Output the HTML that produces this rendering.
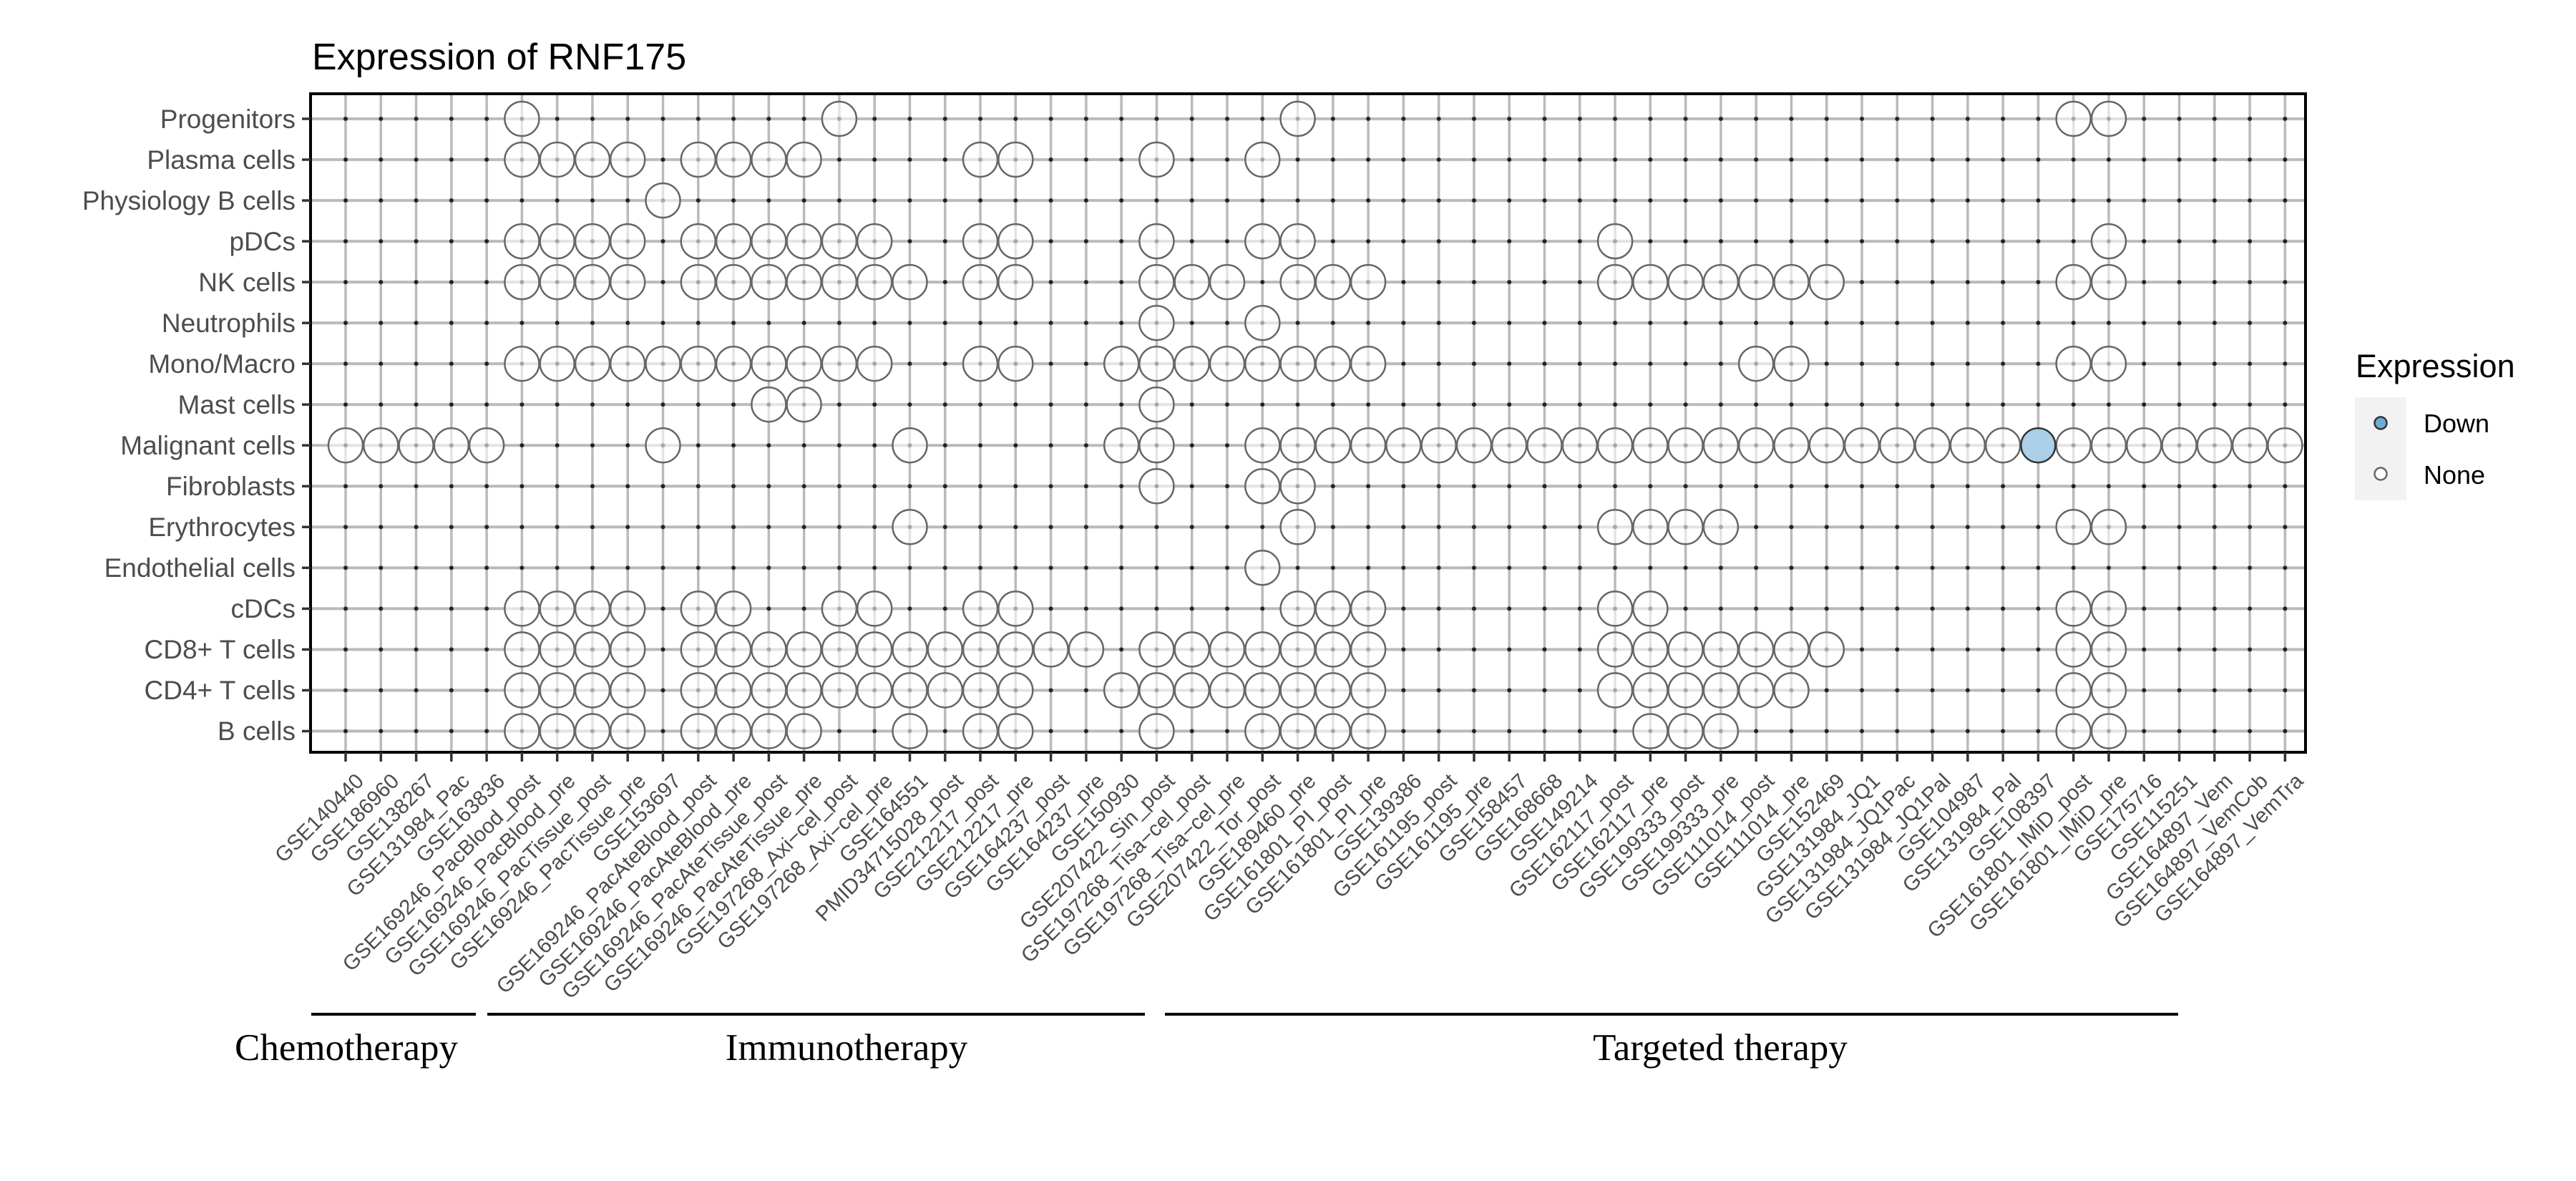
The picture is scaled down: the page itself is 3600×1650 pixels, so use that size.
<!DOCTYPE html>
<html><head><meta charset="utf-8"><style>
html,body{margin:0;padding:0;background:#fff;}
svg{display:block;}
.yl{font-family:"Liberation Sans",sans-serif;font-size:37px;fill:#4d4d4d;text-anchor:end;}
.xl{font-family:"Liberation Sans",sans-serif;font-size:29.5px;fill:#4d4d4d;text-anchor:end;}
.c{fill:#fff;fill-opacity:.6;stroke:#666;stroke-width:2.5;}
.g{font-family:"Liberation Serif",serif;font-size:53px;fill:#000;text-anchor:middle;}
</style></head><body>
<svg width="3600" height="1650" viewBox="0 0 3600 1650" xmlns="http://www.w3.org/2000/svg">
<defs>
<pattern id="pv" patternUnits="userSpaceOnUse" x="458.36" y="0" width="49.28" height="10"><rect x="22.89" y="0" width="3.5" height="10" fill="#bababa"/></pattern>
<pattern id="ph" patternUnits="userSpaceOnUse" x="0" y="137.485" width="10" height="57.03"><rect x="0" y="26.515" width="10" height="4" fill="#bababa"/></pattern>
<pattern id="pd" patternUnits="userSpaceOnUse" x="458.36" y="137.485" width="49.28" height="57.03"><circle cx="24.64" cy="28.515" r="3" fill="#222"/></pattern>
</defs>
<text x="436" y="97" style="font-family:'Liberation Sans',sans-serif;font-size:52px;fill:#000">Expression of RNF175</text>
<rect x="434" y="131" width="2788" height="920" fill="#fff"/>
<rect x="434" y="131" width="2788" height="920" fill="url(#pv)"/>
<rect x="434" y="131" width="2788" height="920" fill="url(#ph)"/>
<rect x="458.36" y="137.485" width="2759.68" height="912.48" fill="url(#pd)"/>

<g class="c">
<g transform="translate(0,166)"><circle cx="729.4" r="24"/><circle cx="1172.9" r="24"/><circle cx="1813.6" r="24"/><circle cx="2897.7" r="24"/><circle cx="2947" r="24"/></g>
<g transform="translate(0,223)"><circle cx="729.4" r="24"/><circle cx="778.7" r="24"/><circle cx="828" r="24"/><circle cx="877.2" r="24"/><circle cx="975.8" r="24"/><circle cx="1025.1" r="24"/><circle cx="1074.4" r="24"/><circle cx="1123.6" r="24"/><circle cx="1370" r="24"/><circle cx="1419.3" r="24"/><circle cx="1616.4" r="24"/><circle cx="1764.3" r="24"/></g>
<g transform="translate(0,280.1)"><circle cx="926.5" r="24"/></g>
<g transform="translate(0,337.1)"><circle cx="729.4" r="24"/><circle cx="778.7" r="24"/><circle cx="828" r="24"/><circle cx="877.2" r="24"/><circle cx="975.8" r="24"/><circle cx="1025.1" r="24"/><circle cx="1074.4" r="24"/><circle cx="1123.6" r="24"/><circle cx="1172.9" r="24"/><circle cx="1222.2" r="24"/><circle cx="1370" r="24"/><circle cx="1419.3" r="24"/><circle cx="1616.4" r="24"/><circle cx="1764.3" r="24"/><circle cx="1813.6" r="24"/><circle cx="2257.1" r="24"/><circle cx="2947" r="24"/></g>
<g transform="translate(0,394.1)"><circle cx="729.4" r="24"/><circle cx="778.7" r="24"/><circle cx="828" r="24"/><circle cx="877.2" r="24"/><circle cx="975.8" r="24"/><circle cx="1025.1" r="24"/><circle cx="1074.4" r="24"/><circle cx="1123.6" r="24"/><circle cx="1172.9" r="24"/><circle cx="1222.2" r="24"/><circle cx="1271.5" r="24"/><circle cx="1370" r="24"/><circle cx="1419.3" r="24"/><circle cx="1616.4" r="24"/><circle cx="1665.7" r="24"/><circle cx="1715" r="24"/><circle cx="1813.6" r="24"/><circle cx="1862.8" r="24"/><circle cx="1912.1" r="24"/><circle cx="2257.1" r="24"/><circle cx="2306.4" r="24"/><circle cx="2355.6" r="24"/><circle cx="2404.9" r="24"/><circle cx="2454.2" r="24"/><circle cx="2503.5" r="24"/><circle cx="2552.8" r="24"/><circle cx="2897.7" r="24"/><circle cx="2947" r="24"/></g>
<g transform="translate(0,451.2)"><circle cx="1616.4" r="24"/><circle cx="1764.3" r="24"/></g>
<g transform="translate(0,508.2)"><circle cx="729.4" r="24"/><circle cx="778.7" r="24"/><circle cx="828" r="24"/><circle cx="877.2" r="24"/><circle cx="926.5" r="24"/><circle cx="975.8" r="24"/><circle cx="1025.1" r="24"/><circle cx="1074.4" r="24"/><circle cx="1123.6" r="24"/><circle cx="1172.9" r="24"/><circle cx="1222.2" r="24"/><circle cx="1370" r="24"/><circle cx="1419.3" r="24"/><circle cx="1567.2" r="24"/><circle cx="1616.4" r="24"/><circle cx="1665.7" r="24"/><circle cx="1715" r="24"/><circle cx="1764.3" r="24"/><circle cx="1813.6" r="24"/><circle cx="1862.8" r="24"/><circle cx="1912.1" r="24"/><circle cx="2454.2" r="24"/><circle cx="2503.5" r="24"/><circle cx="2897.7" r="24"/><circle cx="2947" r="24"/></g>
<g transform="translate(0,565.2)"><circle cx="1074.4" r="24"/><circle cx="1123.6" r="24"/><circle cx="1616.4" r="24"/></g>
<g transform="translate(0,622.2)"><circle cx="483" r="24"/><circle cx="532.3" r="24"/><circle cx="581.6" r="24"/><circle cx="630.8" r="24"/><circle cx="680.1" r="24"/><circle cx="926.5" r="24"/><circle cx="1271.5" r="24"/><circle cx="1567.2" r="24"/><circle cx="1616.4" r="24"/><circle cx="1764.3" r="24"/><circle cx="1813.6" r="24"/><circle cx="1862.8" r="24"/><circle cx="1912.1" r="24"/><circle cx="1961.4" r="24"/><circle cx="2010.7" r="24"/><circle cx="2060" r="24"/><circle cx="2109.2" r="24"/><circle cx="2158.5" r="24"/><circle cx="2207.8" r="24"/><circle cx="2257.1" r="24"/><circle cx="2306.4" r="24"/><circle cx="2355.6" r="24"/><circle cx="2404.9" r="24"/><circle cx="2454.2" r="24"/><circle cx="2503.5" r="24"/><circle cx="2552.8" r="24"/><circle cx="2602" r="24"/><circle cx="2651.3" r="24"/><circle cx="2700.6" r="24"/><circle cx="2749.9" r="24"/><circle cx="2799.2" r="24"/><circle cx="2897.7" r="24"/><circle cx="2947" r="24"/><circle cx="2996.3" r="24"/><circle cx="3045.6" r="24"/><circle cx="3094.8" r="24"/><circle cx="3144.1" r="24"/><circle cx="3193.4" r="24"/><circle cx="2848.4" r="24" style="fill:#a9cfe9;fill-opacity:1;stroke:#333"/></g>
<g transform="translate(0,679.3)"><circle cx="1616.4" r="24"/><circle cx="1764.3" r="24"/><circle cx="1813.6" r="24"/></g>
<g transform="translate(0,736.3)"><circle cx="1271.5" r="24"/><circle cx="1813.6" r="24"/><circle cx="2257.1" r="24"/><circle cx="2306.4" r="24"/><circle cx="2355.6" r="24"/><circle cx="2404.9" r="24"/><circle cx="2897.7" r="24"/><circle cx="2947" r="24"/></g>
<g transform="translate(0,793.3)"><circle cx="1764.3" r="24"/></g>
<g transform="translate(0,850.4)"><circle cx="729.4" r="24"/><circle cx="778.7" r="24"/><circle cx="828" r="24"/><circle cx="877.2" r="24"/><circle cx="975.8" r="24"/><circle cx="1025.1" r="24"/><circle cx="1172.9" r="24"/><circle cx="1222.2" r="24"/><circle cx="1370" r="24"/><circle cx="1419.3" r="24"/><circle cx="1813.6" r="24"/><circle cx="1862.8" r="24"/><circle cx="1912.1" r="24"/><circle cx="2257.1" r="24"/><circle cx="2306.4" r="24"/><circle cx="2897.7" r="24"/><circle cx="2947" r="24"/></g>
<g transform="translate(0,907.4)"><circle cx="729.4" r="24"/><circle cx="778.7" r="24"/><circle cx="828" r="24"/><circle cx="877.2" r="24"/><circle cx="975.8" r="24"/><circle cx="1025.1" r="24"/><circle cx="1074.4" r="24"/><circle cx="1123.6" r="24"/><circle cx="1172.9" r="24"/><circle cx="1222.2" r="24"/><circle cx="1271.5" r="24"/><circle cx="1320.8" r="24"/><circle cx="1370" r="24"/><circle cx="1419.3" r="24"/><circle cx="1468.6" r="24"/><circle cx="1517.9" r="24"/><circle cx="1616.4" r="24"/><circle cx="1665.7" r="24"/><circle cx="1715" r="24"/><circle cx="1764.3" r="24"/><circle cx="1813.6" r="24"/><circle cx="1862.8" r="24"/><circle cx="1912.1" r="24"/><circle cx="2257.1" r="24"/><circle cx="2306.4" r="24"/><circle cx="2355.6" r="24"/><circle cx="2404.9" r="24"/><circle cx="2454.2" r="24"/><circle cx="2503.5" r="24"/><circle cx="2552.8" r="24"/><circle cx="2897.7" r="24"/><circle cx="2947" r="24"/></g>
<g transform="translate(0,964.4)"><circle cx="729.4" r="24"/><circle cx="778.7" r="24"/><circle cx="828" r="24"/><circle cx="877.2" r="24"/><circle cx="975.8" r="24"/><circle cx="1025.1" r="24"/><circle cx="1074.4" r="24"/><circle cx="1123.6" r="24"/><circle cx="1172.9" r="24"/><circle cx="1222.2" r="24"/><circle cx="1271.5" r="24"/><circle cx="1320.8" r="24"/><circle cx="1370" r="24"/><circle cx="1419.3" r="24"/><circle cx="1567.2" r="24"/><circle cx="1616.4" r="24"/><circle cx="1665.7" r="24"/><circle cx="1715" r="24"/><circle cx="1764.3" r="24"/><circle cx="1813.6" r="24"/><circle cx="1862.8" r="24"/><circle cx="1912.1" r="24"/><circle cx="2257.1" r="24"/><circle cx="2306.4" r="24"/><circle cx="2355.6" r="24"/><circle cx="2404.9" r="24"/><circle cx="2454.2" r="24"/><circle cx="2503.5" r="24"/><circle cx="2897.7" r="24"/><circle cx="2947" r="24"/></g>
<g transform="translate(0,1021.5)"><circle cx="729.4" r="24"/><circle cx="778.7" r="24"/><circle cx="828" r="24"/><circle cx="877.2" r="24"/><circle cx="975.8" r="24"/><circle cx="1025.1" r="24"/><circle cx="1074.4" r="24"/><circle cx="1123.6" r="24"/><circle cx="1271.5" r="24"/><circle cx="1370" r="24"/><circle cx="1419.3" r="24"/><circle cx="1616.4" r="24"/><circle cx="1764.3" r="24"/><circle cx="1813.6" r="24"/><circle cx="1862.8" r="24"/><circle cx="1912.1" r="24"/><circle cx="2306.4" r="24"/><circle cx="2355.6" r="24"/><circle cx="2404.9" r="24"/><circle cx="2897.7" r="24"/><circle cx="2947" r="24"/></g>
</g>
<rect x="434" y="131" width="2788" height="920" fill="none" stroke="#000" stroke-width="4"/>

<g stroke="#333" stroke-width="3.5">
<line x1="422" x2="434" y1="166" y2="166"/><line x1="422" x2="434" y1="223" y2="223"/><line x1="422" x2="434" y1="280.1" y2="280.1"/><line x1="422" x2="434" y1="337.1" y2="337.1"/><line x1="422" x2="434" y1="394.1" y2="394.1"/><line x1="422" x2="434" y1="451.2" y2="451.2"/><line x1="422" x2="434" y1="508.2" y2="508.2"/><line x1="422" x2="434" y1="565.2" y2="565.2"/><line x1="422" x2="434" y1="622.2" y2="622.2"/><line x1="422" x2="434" y1="679.3" y2="679.3"/><line x1="422" x2="434" y1="736.3" y2="736.3"/><line x1="422" x2="434" y1="793.3" y2="793.3"/><line x1="422" x2="434" y1="850.4" y2="850.4"/><line x1="422" x2="434" y1="907.4" y2="907.4"/><line x1="422" x2="434" y1="964.4" y2="964.4"/><line x1="422" x2="434" y1="1021.5" y2="1021.5"/>
</g>
<g class="yl">
<text x="413" y="179">Progenitors</text><text x="413" y="236">Plasma cells</text><text x="413" y="293">Physiology B cells</text><text x="413" y="350">pDCs</text><text x="413" y="407">NK cells</text><text x="413" y="464">Neutrophils</text><text x="413" y="521">Mono/Macro</text><text x="413" y="578">Mast cells</text><text x="413" y="635">Malignant cells</text><text x="413" y="692">Fibroblasts</text><text x="413" y="749">Erythrocytes</text><text x="413" y="806">Endothelial cells</text><text x="413" y="863">cDCs</text><text x="413" y="920">CD8+ T cells</text><text x="413" y="977">CD4+ T cells</text><text x="413" y="1034">B cells</text>
</g>

<g stroke="#333" stroke-width="3.5">
<line x1="483" x2="483" y1="1051" y2="1064"/><line x1="532.3" x2="532.3" y1="1051" y2="1064"/><line x1="581.6" x2="581.6" y1="1051" y2="1064"/><line x1="630.8" x2="630.8" y1="1051" y2="1064"/><line x1="680.1" x2="680.1" y1="1051" y2="1064"/><line x1="729.4" x2="729.4" y1="1051" y2="1064"/><line x1="778.7" x2="778.7" y1="1051" y2="1064"/><line x1="828" x2="828" y1="1051" y2="1064"/><line x1="877.2" x2="877.2" y1="1051" y2="1064"/><line x1="926.5" x2="926.5" y1="1051" y2="1064"/><line x1="975.8" x2="975.8" y1="1051" y2="1064"/><line x1="1025.1" x2="1025.1" y1="1051" y2="1064"/><line x1="1074.4" x2="1074.4" y1="1051" y2="1064"/><line x1="1123.6" x2="1123.6" y1="1051" y2="1064"/><line x1="1172.9" x2="1172.9" y1="1051" y2="1064"/><line x1="1222.2" x2="1222.2" y1="1051" y2="1064"/><line x1="1271.5" x2="1271.5" y1="1051" y2="1064"/><line x1="1320.8" x2="1320.8" y1="1051" y2="1064"/><line x1="1370" x2="1370" y1="1051" y2="1064"/><line x1="1419.3" x2="1419.3" y1="1051" y2="1064"/><line x1="1468.6" x2="1468.6" y1="1051" y2="1064"/><line x1="1517.9" x2="1517.9" y1="1051" y2="1064"/><line x1="1567.2" x2="1567.2" y1="1051" y2="1064"/><line x1="1616.4" x2="1616.4" y1="1051" y2="1064"/><line x1="1665.7" x2="1665.7" y1="1051" y2="1064"/><line x1="1715" x2="1715" y1="1051" y2="1064"/><line x1="1764.3" x2="1764.3" y1="1051" y2="1064"/><line x1="1813.6" x2="1813.6" y1="1051" y2="1064"/><line x1="1862.8" x2="1862.8" y1="1051" y2="1064"/><line x1="1912.1" x2="1912.1" y1="1051" y2="1064"/><line x1="1961.4" x2="1961.4" y1="1051" y2="1064"/><line x1="2010.7" x2="2010.7" y1="1051" y2="1064"/><line x1="2060" x2="2060" y1="1051" y2="1064"/><line x1="2109.2" x2="2109.2" y1="1051" y2="1064"/><line x1="2158.5" x2="2158.5" y1="1051" y2="1064"/><line x1="2207.8" x2="2207.8" y1="1051" y2="1064"/><line x1="2257.1" x2="2257.1" y1="1051" y2="1064"/><line x1="2306.4" x2="2306.4" y1="1051" y2="1064"/><line x1="2355.6" x2="2355.6" y1="1051" y2="1064"/><line x1="2404.9" x2="2404.9" y1="1051" y2="1064"/><line x1="2454.2" x2="2454.2" y1="1051" y2="1064"/><line x1="2503.5" x2="2503.5" y1="1051" y2="1064"/><line x1="2552.8" x2="2552.8" y1="1051" y2="1064"/><line x1="2602" x2="2602" y1="1051" y2="1064"/><line x1="2651.3" x2="2651.3" y1="1051" y2="1064"/><line x1="2700.6" x2="2700.6" y1="1051" y2="1064"/><line x1="2749.9" x2="2749.9" y1="1051" y2="1064"/><line x1="2799.2" x2="2799.2" y1="1051" y2="1064"/><line x1="2848.4" x2="2848.4" y1="1051" y2="1064"/><line x1="2897.7" x2="2897.7" y1="1051" y2="1064"/><line x1="2947" x2="2947" y1="1051" y2="1064"/><line x1="2996.3" x2="2996.3" y1="1051" y2="1064"/><line x1="3045.6" x2="3045.6" y1="1051" y2="1064"/><line x1="3094.8" x2="3094.8" y1="1051" y2="1064"/><line x1="3144.1" x2="3144.1" y1="1051" y2="1064"/><line x1="3193.4" x2="3193.4" y1="1051" y2="1064"/>
</g>
<g class="xl">
<text transform="translate(495,1078) rotate(-45)" dy="0.72em">GSE140440</text>
<text transform="translate(544.3,1078) rotate(-45)" dy="0.72em">GSE186960</text>
<text transform="translate(593.6,1078) rotate(-45)" dy="0.72em">GSE138267</text>
<text transform="translate(642.8,1078) rotate(-45)" dy="0.72em">GSE131984_Pac</text>
<text transform="translate(692.1,1078) rotate(-45)" dy="0.72em">GSE163836</text>
<text transform="translate(741.4,1078) rotate(-45)" dy="0.72em">GSE169246_PacBlood_post</text>
<text transform="translate(790.7,1078) rotate(-45)" dy="0.72em">GSE169246_PacBlood_pre</text>
<text transform="translate(840,1078) rotate(-45)" dy="0.72em">GSE169246_PacTissue_post</text>
<text transform="translate(889.2,1078) rotate(-45)" dy="0.72em">GSE169246_PacTissue_pre</text>
<text transform="translate(938.5,1078) rotate(-45)" dy="0.72em">GSE153697</text>
<text transform="translate(987.8,1078) rotate(-45)" dy="0.72em">GSE169246_PacAteBlood_post</text>
<text transform="translate(1037.1,1078) rotate(-45)" dy="0.72em">GSE169246_PacAteBlood_pre</text>
<text transform="translate(1086.4,1078) rotate(-45)" dy="0.72em">GSE169246_PacAteTissue_post</text>
<text transform="translate(1135.6,1078) rotate(-45)" dy="0.72em">GSE169246_PacAteTissue_pre</text>
<text transform="translate(1184.9,1078) rotate(-45)" dy="0.72em">GSE197268_Axi−cel_post</text>
<text transform="translate(1234.2,1078) rotate(-45)" dy="0.72em">GSE197268_Axi−cel_pre</text>
<text transform="translate(1283.5,1078) rotate(-45)" dy="0.72em">GSE164551</text>
<text transform="translate(1332.8,1078) rotate(-45)" dy="0.72em">PMID34715028_post</text>
<text transform="translate(1382,1078) rotate(-45)" dy="0.72em">GSE212217_post</text>
<text transform="translate(1431.3,1078) rotate(-45)" dy="0.72em">GSE212217_pre</text>
<text transform="translate(1480.6,1078) rotate(-45)" dy="0.72em">GSE164237_post</text>
<text transform="translate(1529.9,1078) rotate(-45)" dy="0.72em">GSE164237_pre</text>
<text transform="translate(1579.2,1078) rotate(-45)" dy="0.72em">GSE150930</text>
<text transform="translate(1628.4,1078) rotate(-45)" dy="0.72em">GSE207422_Sin_post</text>
<text transform="translate(1677.7,1078) rotate(-45)" dy="0.72em">GSE197268_Tisa−cel_post</text>
<text transform="translate(1727,1078) rotate(-45)" dy="0.72em">GSE197268_Tisa−cel_pre</text>
<text transform="translate(1776.3,1078) rotate(-45)" dy="0.72em">GSE207422_Tor_post</text>
<text transform="translate(1825.6,1078) rotate(-45)" dy="0.72em">GSE189460_pre</text>
<text transform="translate(1874.8,1078) rotate(-45)" dy="0.72em">GSE161801_PI_post</text>
<text transform="translate(1924.1,1078) rotate(-45)" dy="0.72em">GSE161801_PI_pre</text>
<text transform="translate(1973.4,1078) rotate(-45)" dy="0.72em">GSE139386</text>
<text transform="translate(2022.7,1078) rotate(-45)" dy="0.72em">GSE161195_post</text>
<text transform="translate(2072,1078) rotate(-45)" dy="0.72em">GSE161195_pre</text>
<text transform="translate(2121.2,1078) rotate(-45)" dy="0.72em">GSE158457</text>
<text transform="translate(2170.5,1078) rotate(-45)" dy="0.72em">GSE168668</text>
<text transform="translate(2219.8,1078) rotate(-45)" dy="0.72em">GSE149214</text>
<text transform="translate(2269.1,1078) rotate(-45)" dy="0.72em">GSE162117_post</text>
<text transform="translate(2318.4,1078) rotate(-45)" dy="0.72em">GSE162117_pre</text>
<text transform="translate(2367.6,1078) rotate(-45)" dy="0.72em">GSE199333_post</text>
<text transform="translate(2416.9,1078) rotate(-45)" dy="0.72em">GSE199333_pre</text>
<text transform="translate(2466.2,1078) rotate(-45)" dy="0.72em">GSE111014_post</text>
<text transform="translate(2515.5,1078) rotate(-45)" dy="0.72em">GSE111014_pre</text>
<text transform="translate(2564.8,1078) rotate(-45)" dy="0.72em">GSE152469</text>
<text transform="translate(2614,1078) rotate(-45)" dy="0.72em">GSE131984_JQ1</text>
<text transform="translate(2663.3,1078) rotate(-45)" dy="0.72em">GSE131984_JQ1Pac</text>
<text transform="translate(2712.6,1078) rotate(-45)" dy="0.72em">GSE131984_JQ1Pal</text>
<text transform="translate(2761.9,1078) rotate(-45)" dy="0.72em">GSE104987</text>
<text transform="translate(2811.2,1078) rotate(-45)" dy="0.72em">GSE131984_Pal</text>
<text transform="translate(2860.4,1078) rotate(-45)" dy="0.72em">GSE108397</text>
<text transform="translate(2909.7,1078) rotate(-45)" dy="0.72em">GSE161801_IMiD_post</text>
<text transform="translate(2959,1078) rotate(-45)" dy="0.72em">GSE161801_IMiD_pre</text>
<text transform="translate(3008.3,1078) rotate(-45)" dy="0.72em">GSE175716</text>
<text transform="translate(3057.6,1078) rotate(-45)" dy="0.72em">GSE115251</text>
<text transform="translate(3106.8,1078) rotate(-45)" dy="0.72em">GSE164897_Vem</text>
<text transform="translate(3156.1,1078) rotate(-45)" dy="0.72em">GSE164897_VemCob</text>
<text transform="translate(3205.4,1078) rotate(-45)" dy="0.72em">GSE164897_VemTra</text>
</g>

<g stroke="#000" stroke-width="4">
<line x1="435" x2="665" y1="1417" y2="1417"/>
<line x1="681" x2="1600" y1="1417" y2="1417"/>
<line x1="1628" x2="3044" y1="1417" y2="1417"/>
</g>
<text class="g" x="484" y="1481">Chemotherapy</text>
<text class="g" x="1183" y="1481">Immunotherapy</text>
<text class="g" x="2404" y="1481">Targeted therapy</text>

<text x="3292" y="527" style="font-family:'Liberation Sans',sans-serif;font-size:45px;fill:#000">Expression</text>
<rect x="3291" y="555" width="72" height="144" fill="#f2f2f2"/>
<circle cx="3327" cy="591" r="8.5" fill="#6baed6" stroke="#333" stroke-width="2.5"/>
<circle cx="3327" cy="662" r="8.5" fill="#fff" stroke="#666" stroke-width="2.5"/>
<text x="3387" y="604" style="font-family:'Liberation Sans',sans-serif;font-size:36px;fill:#000">Down</text>
<text x="3387" y="676" style="font-family:'Liberation Sans',sans-serif;font-size:36px;fill:#000">None</text>
</svg>
</body></html>
